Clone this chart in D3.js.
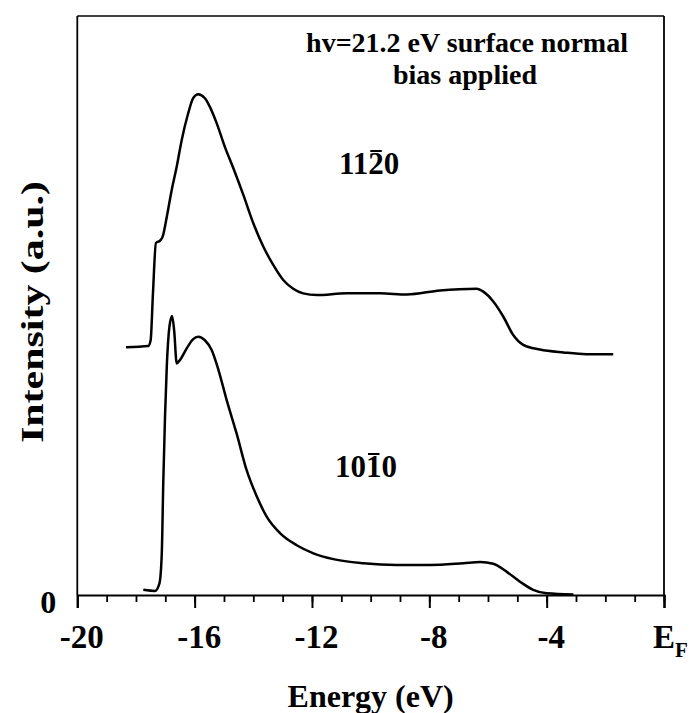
<!DOCTYPE html>
<html lang="en">
<head>
<meta charset="utf-8">
<style>
  body { margin: 0; background: #fff; }
  text { font-family: "Liberation Serif", "Times New Roman", serif; font-weight: bold; fill: #000; }
</style>
</head>
<body>
<svg width="696" height="713"></svg>
<script src="https://cdn.jsdelivr.net/npm/d3@7"></script>
<script>
// energy (eV) and intensity (a.u.)
var upperE = [-18.34, -17.58, -17.50, -17.42, -17.32, -17.18, -17.09, -16.95, -16.78, -16.61, -16.44, -16.22,
  -16.05, -15.88, -15.65, -15.48, -15.25, -14.97, -14.68, -14.34, -14.00, -13.66, -13.32, -12.98, -12.64,
  -12.30, -11.84, -10.82, -9.68, -8.77, -7.64, -6.39, -6.16, -5.82, -5.48, -5.14, -4.80, -4.23, -3.43, -2.64, -1.73];
var upperI = [42.8, 43.0, 44.0, 52.2, 60.8, 61.2, 61.9, 65.3, 70.0, 74.0, 78.6, 83.2,
  85.8, 86.5, 85.8, 84.3, 81.5, 77.4, 73.7, 69.1, 64.2, 60.2, 57.0, 54.4, 52.9,
  52.1, 51.8, 52.1, 52.1, 51.9, 52.6, 52.9, 52.4, 50.7, 48.1, 44.9, 43.2, 42.4, 41.9, 41.6, 41.6];

var lowerE = [-17.75, -17.35, -17.20, -17.12, -17.07, -17.01, -16.95, -16.86, -16.77, -16.70, -16.61, -16.50,
  -16.27, -16.05, -15.88, -15.65, -15.42, -15.19, -14.91, -14.57, -14.23, -13.88, -13.54, -13.09, -12.52,
  -11.95, -11.27, -10.25, -9.11, -7.98, -6.84, -6.27, -5.82, -5.36, -4.91, -4.46, -4.00, -3.09];
var lowerI = [0.9, 0.7, 2.0, 7.2, 19.3, 30.8, 39.4, 46.3, 48.2, 45.8, 40.0, 40.6,
  42.6, 44.2, 44.6, 44.0, 42.3, 38.9, 33.7, 27.9, 21.6, 17.0, 13.5, 10.7, 8.6,
  7.2, 6.2, 5.5, 5.2, 5.2, 5.5, 5.7, 5.4, 4.0, 2.3, 0.9, 0.3, 0.1];

var majorTicks = [-20, -16, -12, -8, -4, 0];
var tickLabels = ["-20", "-16", "-12", "-8", "-4", "E"];
var minorTicks = d3.range(-20, 1, 1);
var noteLines = ["hv=21.2 eV surface normal", "bias applied"];

var svg = d3.select("svg");
var margin = {top: 16, right: 32, bottom: 118, left: 77.3};
var W = 696 - margin.left - margin.right,
    H = 713 - margin.top - margin.bottom;

var g = svg.append("g").attr("transform", "translate(" + margin.left + "," + margin.top + ")");

var x = d3.scaleLinear().domain([-20, 0]).range([0, W]);
var y = d3.scaleLinear().domain([0, 100]).range([H, 0]);

// frame
g.append("line").attr("x1", 0).attr("x2", W).attr("y1", 0).attr("y2", 0)
  .attr("stroke", "#000").attr("stroke-width", 1.5);
g.append("line").attr("x1", 0).attr("x2", 0).attr("y1", 0).attr("y2", H)
  .attr("stroke", "#000").attr("stroke-width", 1.8);
g.append("line").attr("x1", W).attr("x2", W).attr("y1", 0).attr("y2", H)
  .attr("stroke", "#000").attr("stroke-width", 1.8);

// minor ticks
g.append("g").attr("transform", "translate(0," + H + ")")
  .call(d3.axisBottom(x).tickValues(minorTicks).tickSize(7).tickFormat(""))
  .call(function (a) { a.select(".domain").remove(); })
  .selectAll("line").attr("stroke-width", 1.8);

// major ticks + labels
var xa = g.append("g").attr("transform", "translate(0," + H + ")")
  .call(d3.axisBottom(x).tickValues(majorTicks).tickSize(13).tickPadding(0)
    .tickFormat(function (d, i) { return tickLabels[i]; }));
xa.select(".domain").attr("stroke-width", 2.2);
xa.selectAll(".tick line").attr("stroke-width", 2);
xa.selectAll(".tick text")
  .attr("y", 53).attr("dy", 0).attr("dx", 4)
  .style("font-size", "33px")
  .attr("font-family", null);
xa.select(".tick:last-of-type text").attr("dx", 6)
  .append("tspan").attr("font-size", "21px").attr("dy", 9).text("F");

// y "0" label
g.append("text").attr("x", -29).attr("y", y(0) + 18)
  .attr("text-anchor", "middle").style("font-size", "32px").text("0");

// curves
var line = d3.line()
  .x(function (d) { return x(d[0]); })
  .y(function (d) { return y(d[1]); })
  .curve(d3.curveMonotoneX);

g.append("path").datum(d3.zip(upperE, upperI))
  .attr("d", line).attr("fill", "none").attr("stroke", "#000").attr("stroke-width", 2.5);
g.append("path").datum(d3.zip(lowerE, lowerI))
  .attr("d", line).attr("fill", "none").attr("stroke", "#000").attr("stroke-width", 2.5);

// curve labels with overbar on the third digit
function millerLabel(txt, px, py) {
  var t = g.append("text").attr("x", px).attr("y", py).style("font-size", "31px").text(txt);
  var b = t.node().getExtentOfChar(2);
  g.append("line")
    .attr("x1", b.x + 2).attr("x2", b.x + b.width - 2)
    .attr("y1", b.y + 5).attr("y2", b.y + 5)
    .attr("stroke", "#000").attr("stroke-width", 2);
}
millerLabel("1120", 339 - margin.left, 174 - margin.top);
millerLabel("1010", 335 - margin.left, 477 - margin.top);

// annotation, two lines
noteLines.forEach(function (s, i) {
  svg.append("text").attr("x", i ? 465 : 467).attr("y", 52 + i * 31.5)
    .attr("text-anchor", "middle").style("font-size", "28px").text(s);
});

// axis titles
svg.append("text").attr("x", margin.left + W / 2).attr("y", 707).attr("text-anchor", "middle")
  .style("font-size", "32px").text("Energy (eV)");
svg.append("text")
  .attr("transform", "translate(43," + 312 + ") rotate(-90)")
  .attr("text-anchor", "middle")
  .attr("textLength", 262).attr("lengthAdjust", "spacingAndGlyphs")
  .style("font-size", "32px").text("Intensity (a.u.)");
</script>
</body>
</html>
